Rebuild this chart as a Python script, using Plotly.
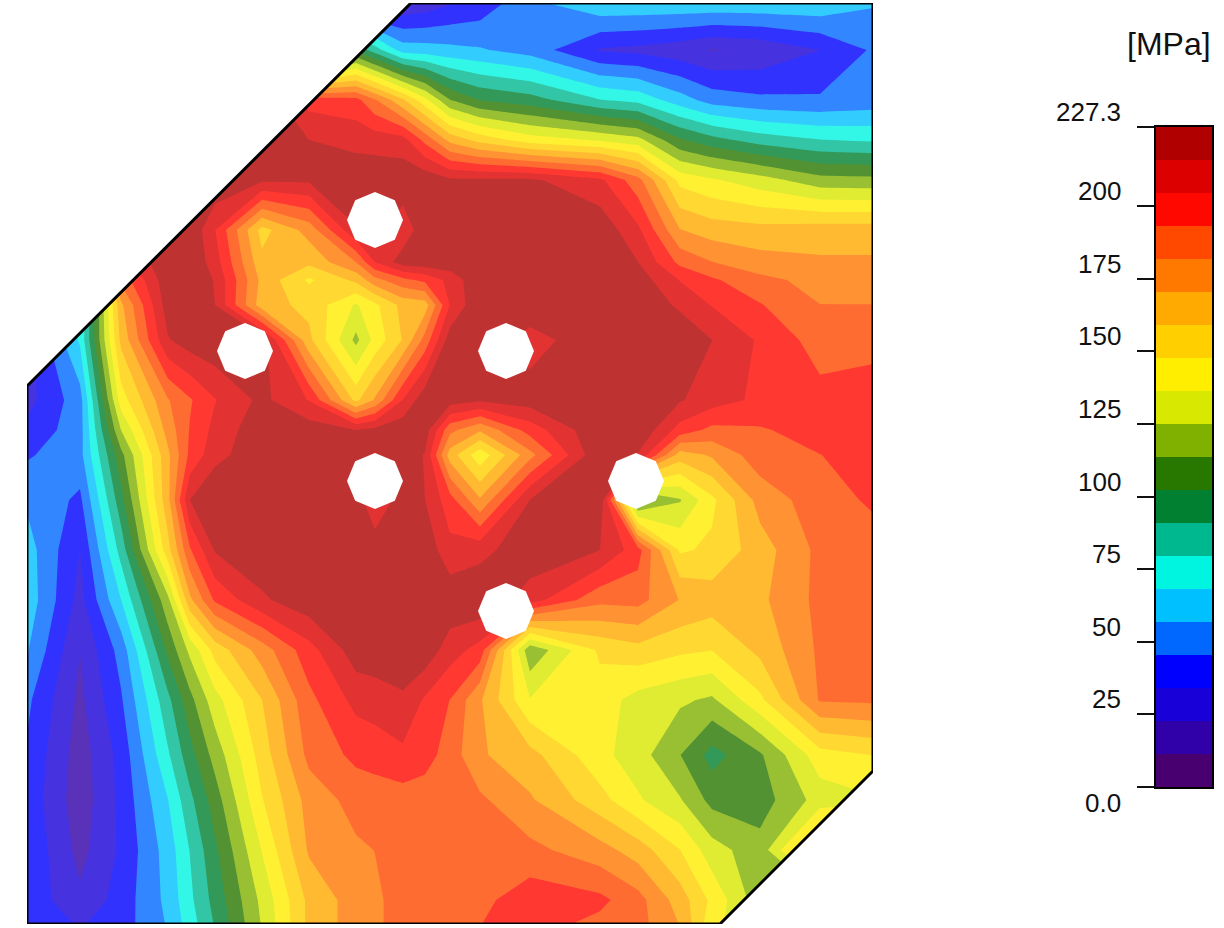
import plotly.graph_objects as go

# stress map nodes, in picture units
x_nodes = [27, 80, 121, 168, 190, 215, 262, 309, 356, 375, 403, 425, 450, 480, 530, 600, 638, 680, 712, 760, 820, 873]
y_nodes = [3, 50, 100, 140, 180, 230, 262, 280, 305, 340, 400, 430, 455, 500, 550, 600, 650, 700, 755, 800, 850, 900, 924]

# MPa, one row per y node
stress = [
    [20, 20, 20, 20, 20, 20, 20, 20, 20, 22, 24, 27, 33, 38, 54, 66, 66, 66, 66, 66, 66, 58],
    [60, 60, 60, 60, 60, 60, 60, 60, 100, 85, 63, 62, 60, 58, 52, 33, 31, 27, 22, 25, 34, 47],
    [30, 60, 120, 180, 205, 226, 226, 200, 197, 183, 161, 140, 114, 102, 96, 80, 76, 62, 52, 48, 47, 50],
    [30, 60, 130, 226, 226, 226, 226, 216, 212, 211, 209, 190, 167, 155, 142, 135, 129, 104, 95, 86, 80, 78],
    [30, 60, 150, 226, 226, 226, 218, 218, 224, 224, 224, 224, 218, 218, 218, 207, 186, 144, 138, 130, 118, 117],
    [30, 60, 226, 226, 226, 205, 155, 175, 215, 218, 208, 224, 225, 226, 226, 224, 207, 171, 165, 163, 165, 165],
    [30, 60, 200, 226, 226, 210, 162, 162, 182, 205, 222, 224, 224, 226, 226, 226, 216, 190, 182, 175, 172, 172],
    [28, 67, 185, 224, 226, 215, 167, 146, 162, 178, 190, 196, 208, 226, 226, 226, 222, 204, 195, 185, 178, 176],
    [28, 67, 168, 222, 226, 216, 164, 156, 135, 145, 163, 165, 205, 226, 226, 226, 224, 214, 204, 194, 182, 182],
    [28, 70, 162, 215, 222, 225, 222, 162, 122, 140, 160, 186, 222, 226, 210, 226, 226, 224, 216, 203, 188, 190],
    [30, 52, 142, 181, 192, 204, 219, 204, 156, 172, 205, 224, 222, 218, 222, 226, 224, 217, 210, 202, 197, 198],
    [37, 52, 125, 175, 194, 208, 224, 222, 216, 219, 224, 222, 185, 172, 198, 226, 226, 200, 190, 192, 198, 198],
    [44, 53, 110, 168, 196, 212, 224, 224, 224, 224, 224, 215, 165, 140, 178, 226, 215, 165, 172, 188, 193, 198],
    [55, 43, 98, 167, 216, 227, 224, 224, 224, 203, 224, 216, 198, 172, 216, 226, 105, 124, 145, 175, 188, 195],
    [62, 34, 84, 155, 192, 217, 224, 224, 224, 225, 226, 224, 208, 212, 224, 216, 198, 146, 150, 165, 185, 188],
    [64, 30, 68, 122, 168, 195, 214, 224, 224, 224, 224, 224, 224, 226, 210, 185, 186, 170, 165, 168, 185, 187],
    [58, 23, 50, 105, 128, 152, 176, 200, 222, 223, 224, 224, 210, 200, 116, 150, 155, 150, 148, 162, 184, 186],
    [48, 20, 44, 88, 110, 132, 159, 190, 208, 210, 214, 203, 193, 172, 137, 142, 132, 127, 123, 145, 183, 184],
    [44, 17, 38, 78, 98, 118, 153, 185, 196, 198, 202, 198, 188, 172, 163, 140, 130, 114, 98, 112, 143, 148],
    [42, 16, 37, 68, 88, 108, 147, 175, 186, 187, 188, 187, 187, 184, 172, 152, 138, 126, 110, 108, 130, 135],
    [44, 19, 36, 62, 80, 100, 137, 172, 180, 182, 186, 186, 186, 186, 185, 175, 165, 148, 130, 118, 170, 150],
    [42, 25, 39, 60, 77, 95, 128, 162, 176, 180, 186, 186, 187, 190, 200, 196, 186, 165, 145, 118, 120, 130],
    [42, 33, 40, 58, 74, 92, 126, 162, 176, 180, 186, 186, 186, 193, 198, 190, 186, 170, 140, 125, 130, 140],
]

# plate outline and the six bolt holes
outline_x = [411, 873, 873, 720, 27, 27, 411]
outline_y = [3, 3, 771, 924, 924, 386, 3]
cut_top_x = [27, 411, 27, 27]
cut_top_y = [3, 3, 386, 3]
cut_bottom_x = [873, 873, 720, 873]
cut_bottom_y = [771, 924, 924, 771]
hole_x = [375, 245, 506, 375, 636, 506]
hole_y = [220, 351, 351, 481, 481, 611]

# legend, bottom band first
band_colors = ["#480070", "#3000a8", "#1800d8", "#0000ff", "#0068ff", "#00c0ff", "#00f5e0",
               "#00b890", "#008030", "#287800", "#80b000", "#d8e800", "#ffee00", "#ffcf00",
               "#ffaa00", "#ff7800", "#ff4800", "#ff0800", "#dc0000", "#b00000"]
stress_max = 227.3
tick_vals = [0, 25, 50, 75, 100, 125, 150, 175, 200, 227.3]
tick_text = ["0.0", "25", "50", "75", "100", "125", "150", "175", "200", "227.3"]

n_bands = len(band_colors)
band_size = stress_max / n_bands
band_edges = [band_size * i for i in range(n_bands + 1)]
band_mids = [[band_size * (i + 0.5)] for i in range(n_bands)]

# contour fills read the colorscale at the band middle
contour_scale = [[0, band_colors[0]]] + [[(i + 1) / n_bands, c] for i, c in enumerate(band_colors)]
legend_scale = []
for i, c in enumerate(band_colors):
    legend_scale.append([i / n_bands, c])
    legend_scale.append([(i + 1) / n_bands, c])

W, H = 1224, 928

fig = go.Figure()
fig.add_trace(go.Contour(
    x=x_nodes, y=y_nodes, z=stress,
    autocontour=False,
    contours=dict(start=0, end=216, size=band_size, coloring="fill", showlines=False),
    line=dict(width=0, smoothing=0),
    colorscale=contour_scale,
    opacity=0.8,
    showscale=False,
    hoverinfo="skip",
))
for cx, cy in [(cut_top_x, cut_top_y), (cut_bottom_x, cut_bottom_y)]:
    fig.add_trace(go.Scatter(x=cx, y=cy, mode="lines", fill="toself", fillcolor="white",
                             line=dict(width=0, color="white"), hoverinfo="skip"))
fig.add_trace(go.Scatter(x=hole_x, y=hole_y, mode="markers", hoverinfo="skip",
                         marker=dict(symbol="octagon", size=56, angle=22.5, color="white", line_width=0)))
fig.add_trace(go.Scatter(x=outline_x, y=outline_y, mode="lines", cliponaxis=False, hoverinfo="skip",
                         line=dict(color="black", width=3)))

fig.add_trace(go.Heatmap(
    x=[0, 1], y=band_edges, z=band_mids,
    xaxis="x2", yaxis="y2",
    zmin=0, zmax=stress_max,
    colorscale=legend_scale,
    showscale=False,
    hoverinfo="skip",
))

annotations = []
for v, t in zip(tick_vals, tick_text):
    annotations.append(dict(
        text=t, xref="paper", x=1123 / W, yref="y2", y=v,
        xanchor="right", yanchor="middle", showarrow=False,
        yshift=-16 if v == 0 else 15,
        font=dict(family="Liberation Sans", size=26, color="#111111"),
    ))
annotations.append(dict(
    text="[MPa]", xref="paper", x=1169 / W, yref="paper", y=1 - 44 / H,
    xanchor="center", yanchor="middle", showarrow=False,
    font=dict(family="Liberation Sans", size=32, color="#111111"),
))

fig.update_layout(
    width=W, height=H,
    margin=dict(l=0, r=0, t=0, b=0),
    paper_bgcolor="white", plot_bgcolor="white",
    showlegend=False,
    annotations=annotations,
    xaxis=dict(domain=[27 / W, 873 / W], range=[27, 873], visible=False),
    yaxis=dict(domain=[1 - 924 / H, 1 - 3 / H], range=[924, 3], visible=False),
    xaxis2=dict(domain=[1156 / W, 1212 / W], range=[0, 1], anchor="y2", showticklabels=False,
                ticks="", showgrid=False, zeroline=False, showline=True, mirror=True,
                linecolor="black", linewidth=2),
    yaxis2=dict(domain=[1 - 787 / H, 1 - 127 / H], range=[0, stress_max], anchor="x2",
                tickvals=tick_vals, ticks="outside", ticklen=17, tickwidth=2, tickcolor="#111111",
                showticklabels=False, showgrid=False, zeroline=False, showline=True, mirror=True,
                linecolor="black", linewidth=2),
)

fig.write_html("out.html", post_script="document.body.style.margin='0';",
               config=dict(displayModeBar=False))
